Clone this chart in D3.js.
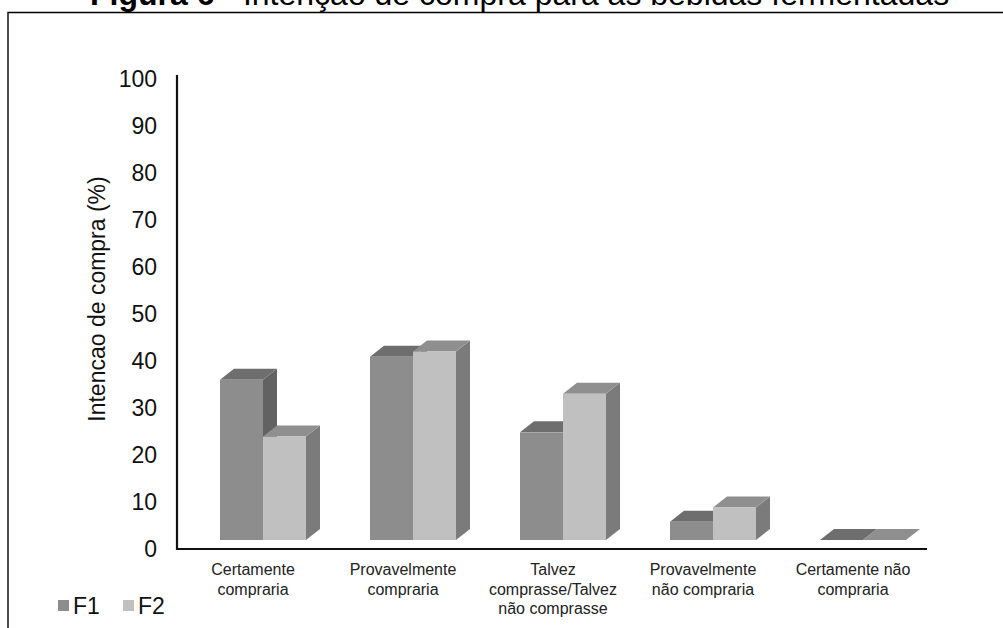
<!DOCTYPE html>
<html>
<head>
<meta charset="utf-8">
<script src="https://cdn.jsdelivr.net/npm/d3@7"></script>
<style>
  html, body { margin: 0; padding: 0; background: #fff; }
  svg { display: block; }
  text { font-family: "Liberation Sans", Arial, sans-serif; }
</style>
</head>
<body>
<svg id="chart" width="1003" height="628"></svg>
<script>
// Purchase intention (%) per answer category, for the two fermented drinks
const categories = [
  ["Certamente", "compraria"],
  ["Provavelmente", "compraria"],
  ["Talvez", "comprasse/Talvez", "não comprasse"],
  ["Provavelmente", "não compraria"],
  ["Certamente não", "compraria"]
];
const seriesNames = ["F1", "F2"];
const f1Values = [34.1, 39.0, 22.9, 3.9, 0];
const f2Values = [22.0, 40.1, 31.1, 6.9, 0];
const yTicks = [0, 10, 20, 30, 40, 50, 60, 70, 80, 90, 100];

const titleBold = "Figura 6";
const titleRest = " - Intenção de compra para as bebidas fermentadas";
const yTitle = "Intencao de compra (%)";

// face colours for each series: front, top, side
const palette = {
  F1: { front: "#8d8d8d", top: "#6e6e6e", side: "#626262" },
  F2: { front: "#c0c0c0", top: "#8f8f8f", side: "#7b7b7b" }
};

const svg = d3.select("#chart");
const catKeys = categories.map(c => c.join(" "));
const seriesValues = { F1: f1Values, F2: f2Values };

const x = d3.scaleBand().domain(catKeys).range([178, 928]);
const xs = d3.scaleBand().domain(seriesNames).range([42, 128]);
const y = d3.scaleLinear().domain([0, 100]).range([549, 79]);

// 3D projection offsets
const depthX = 14, depthY = 11, floorLift = 9;

// outer frame
svg.append("path")
  .attr("d", "M8,640 L8,12.5 L1010,12.5")
  .attr("fill", "none").attr("stroke", "#000").attr("stroke-width", 1.4);

// title (partly above the frame)
const title = svg.append("text").attr("x", 90).attr("y", 5)
  .attr("font-size", 32).attr("fill", "#000");
title.append("tspan").attr("font-weight", "bold").text(titleBold);
title.append("tspan").text(titleRest);

// bars
const bars = svg.append("g");
catKeys.forEach((cat, i) => {
  seriesNames.forEach(s => {
    const v = seriesValues[s][i];
    const x0 = x(cat) + xs(s);
    const w = xs.bandwidth();
    const yb = y(0) - floorLift;
    const yt = y(v) - floorLift;
    const c = palette[s];
    const g = bars.append("g");
    g.append("polygon")
      .attr("points", [[x0 + w, yt], [x0 + w + depthX, yt - depthY], [x0 + w + depthX, yb - depthY], [x0 + w, yb]].join(" "))
      .attr("fill", c.side);
    g.append("polygon")
      .attr("points", [[x0, yt], [x0 + w, yt], [x0 + w + depthX, yt - depthY], [x0 + depthX, yt - depthY]].join(" "))
      .attr("fill", c.top);
    g.append("rect")
      .attr("x", x0).attr("y", yt).attr("width", w).attr("height", yb - yt)
      .attr("fill", c.front);
  });
});

// axes
const yAxis = d3.axisLeft(y).tickValues(yTicks).tickSize(0).tickPadding(20);
const gy = svg.append("g").attr("transform", "translate(177,0)").call(yAxis);
gy.select(".domain").remove();
gy.selectAll("text").attr("font-size", 23).attr("fill", "#111")
  .attr("font-family", "'Liberation Sans', Arial, sans-serif");

svg.append("line").attr("x1", 177).attr("x2", 177).attr("y1", 75).attr("y2", 550)
  .attr("stroke", "#111").attr("stroke-width", 2.2);
svg.append("line").attr("x1", 176).attr("x2", 927).attr("y1", 549).attr("y2", 549)
  .attr("stroke", "#111").attr("stroke-width", 2.2);

// category labels
const catLabels = svg.append("g");
categories.forEach((lines, i) => {
  const cx = x(catKeys[i]) + x.bandwidth() / 2;
  const t = catLabels.append("text")
    .attr("x", cx)
    .attr("y", 575)
    .attr("text-anchor", "middle")
    .attr("font-size", 16).attr("fill", "#222");
  lines.forEach((ln, j) => {
    t.append("tspan").attr("x", cx)
      .attr("dy", j === 0 ? 0 : 19.5).text(ln);
  });
});

// y axis title
svg.append("text")
  .attr("transform", "translate(105,299) rotate(-90)")
  .attr("text-anchor", "middle")
  .attr("font-size", 23).attr("fill", "#111")
  .text(yTitle);

// legend
const legend = svg.append("g");
const legendX = [58, 123];
seriesNames.forEach((s, i) => {
  legend.append("rect").attr("x", legendX[i]).attr("y", 600).attr("width", 11).attr("height", 11)
    .attr("fill", palette[s].front);
  legend.append("text").attr("x", legendX[i] + 15).attr("y", 614)
    .attr("font-size", 23).attr("fill", "#111").text(s);
});
</script>
</body>
</html>
